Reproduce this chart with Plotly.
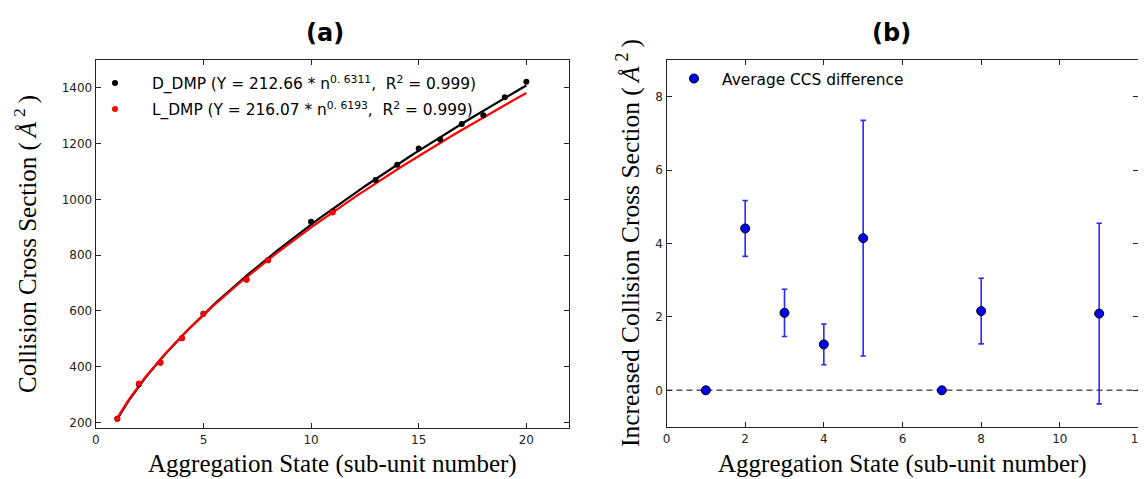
import numpy as np
import plotly.graph_objects as go

# page is drawn with an 8px body margin, so the figure is sized to fit the window
W, H = 1138, 471
OFF = 8

# ---- Panel (a) data ----
d_n = [1, 2, 3, 4, 5, 7, 8, 10, 11, 13, 14, 15, 16, 17, 18, 19, 20]
d_ccs = [213, 337, 414, 502, 590, 713, 782, 920, 957, 1070, 1124, 1183, 1215, 1270, 1302, 1366, 1422]
l_n = [1, 2, 3, 4, 5, 7, 8, 11]
l_ccs = [213, 340, 415, 502, 590, 712, 782, 953]
d_fit_a, d_fit_b = 212.66, 0.6311
l_fit_a, l_fit_b = 216.07, 0.6193
fit_n = np.linspace(1, 20, 200)

# ---- Panel (b) data ----
b_x = [1, 2, 3, 4, 5, 7, 8, 11]
b_y = [0.0, 4.41, 2.11, 1.25, 4.145, 0.0, 2.16, 2.09]
b_err = [0.0, 0.76, 0.645, 0.555, 3.21, 0.0, 0.895, 2.46]

SERIF = "Liberation Serif"
SANS = "DejaVu Sans"


def px(x):
    return (x - OFF) / W


def py(y):
    return 1 - (y - OFF) / H


fig = go.Figure()

fig.add_trace(go.Scatter(x=fit_n, y=d_fit_a * fit_n ** d_fit_b, mode="lines",
                         line=dict(color="black", width=2.2), showlegend=False,
                         xaxis="x", yaxis="y"))
fig.add_trace(go.Scatter(x=fit_n, y=l_fit_a * fit_n ** l_fit_b, mode="lines",
                         line=dict(color="red", width=2.2), showlegend=False,
                         xaxis="x", yaxis="y"))
fig.add_trace(go.Scatter(x=d_n, y=d_ccs, mode="markers",
                         marker=dict(color="black", size=6),
                         name="D_DMP (Y = 212.66 * n<sup>0. 6311</sup>,  R<sup>2</sup> = 0.999)",
                         legendgroup="d", legend="legend", xaxis="x", yaxis="y"))
fig.add_trace(go.Scatter(x=l_n, y=l_ccs, mode="markers",
                         marker=dict(color="red", size=6),
                         name="L_DMP (Y = 216.07 * n<sup>0. 6193</sup>,  R<sup>2</sup> = 0.999)",
                         legendgroup="l", legend="legend", xaxis="x", yaxis="y"))

fig.add_trace(go.Scatter(x=b_x, y=b_y, mode="markers",
                         marker=dict(color="#0000f0", size=9, line=dict(color="black", width=1)),
                         error_y=dict(type="data", array=b_err, color="#2a2aff", thickness=1.6, width=2.7),
                         name="Average CCS difference", legend="legend2",
                         xaxis="x2", yaxis="y2"))

axis_common = dict(showgrid=False, zeroline=False, showline=True, linecolor="#222",
                   linewidth=1.3, mirror="ticks", ticks="inside", ticklen=5, tickwidth=1,
                   tickcolor="#222", tickfont=dict(family=SANS, size=12, color="#222"),
                   automargin=False)

fig.update_layout(
    width=W, height=H, margin=dict(l=0, r=0, t=0, b=0, autoexpand=False),
    paper_bgcolor="white", plot_bgcolor="white",
    xaxis=dict(domain=[px(95.8), px(569.4)], range=[0, 22], tickvals=[0, 5, 10, 15, 20], anchor="y", **axis_common),
    yaxis=dict(domain=[py(428), py(60)], range=[180, 1500], tickvals=[200, 400, 600, 800, 1000, 1200, 1400], anchor="x", **axis_common),
    xaxis2=dict(domain=[px(666.5), px(1138.5)], range=[0, 12], tickvals=[0, 2, 4, 6, 8, 10, 12], anchor="y2",
                ticklabeloverflow="allow", **axis_common),
    yaxis2=dict(domain=[py(427), py(60)], range=[-1, 9], tickvals=[0, 2, 4, 6, 8], anchor="x2", **axis_common),
    legend=dict(x=px(78), y=py(66.5), xanchor="left", yanchor="top", bgcolor="rgba(0,0,0,0)",
                font=dict(family=SANS, size=15.4, color="black"), itemwidth=64, tracegroupgap=3),
    legend2=dict(x=px(666), y=py(62), xanchor="left", yanchor="top", bgcolor="rgba(0,0,0,0)",
                 font=dict(family=SANS, size=15.4, color="black"), itemwidth=46),
    showlegend=True,
)

fig.add_shape(type="line", xref="x2 domain", x0=0, x1=1, yref="y2", y0=0, y1=0,
              line=dict(color="#555", width=1.4, dash="6px,4px"), layer="below")


def ann(text, x, y, size, family, angle=0, bold=False):
    t = f"<b>{text}</b>" if bold else text
    fig.add_annotation(text=t, x=px(x), y=py(y), xref="paper", yref="paper",
                       showarrow=False, textangle=angle, xanchor="center", yanchor="middle",
                       font=dict(family=family, size=size, color="black"))


ann("(a)", 325, 33, 24, SANS, bold=True)
ann("(b)", 892, 33, 24, SANS, bold=True)
ann("Aggregation State (sub-unit number)", 332, 464, 25, SERIF)
ann("Aggregation State (sub-unit number)", 902, 464, 25, SERIF)
ann("Collision Cross Section (\u2009<i>Å</i>\u2009<sup>2</sup>\u2009)", 25, 244, 25, SERIF, angle=-90)
ann("Increased Collision Cross Section (\u2009<i>Å</i>\u2009<sup>2</sup>\u2009)", 628, 243, 25.5, SERIF, angle=-90)

fig.write_html("out.html")
